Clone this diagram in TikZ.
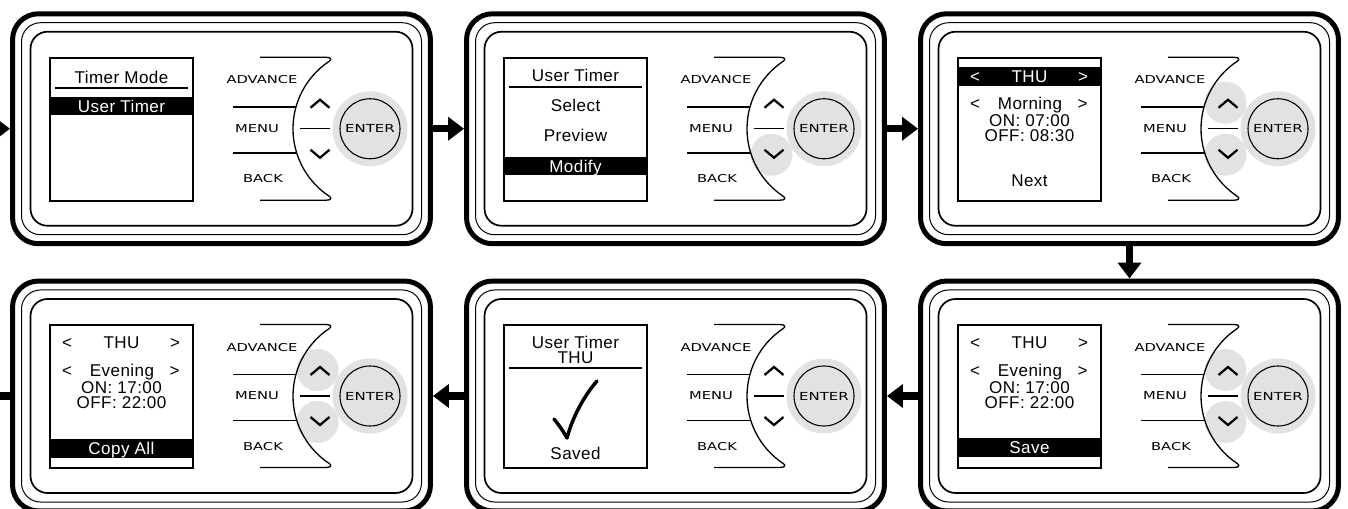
\documentclass[tikz,border=0pt]{standalone}
\usepackage{fontspec}
\newfontfamily\lcdfont[LetterSpace=2.5]{Liberation Sans}
\newfontfamily\padfont[FakeStretch=1.35]{DejaVu Sans}
\usetikzlibrary{arrows.meta}
\definecolor{padgray}{RGB}{226,226,226}

\begin{document}
\begin{tikzpicture}[x=0.02cm, y=-0.02cm,
    device/.style={draw, line width=0.1cm, rounded corners=0.52cm, minimum width=8.36cm, minimum height=4.6cm},
    rim/.style={line width=0.02cm, rounded corners=0.38cm},
    screen/.style={draw, line width=0.034cm, minimum size=2.86cm, inner sep=0pt},
    pad/.style={line width=0.026cm},
    padtext/.style={font=\padfont\fontsize{6.2}{7}\selectfont, inner sep=0pt},
    chev/.style={line width=0.045cm},
    enterkey/.style={circle, draw, line width=0.022cm, fill=padgray, minimum size=1.2cm, inner sep=0pt, font=\padfont\fontsize{6.3}{7}\selectfont},
    lcd/.style={font=\lcdfont\fontsize{9.7}{10}\selectfont, inner sep=0pt, text height=6.9pt, text depth=0pt},
    rule/.style={line width=0.026cm},
    flow/.style={line width=0.15cm, -{Triangle[length=0.32cm, width=0.46cm]}}]
      \useasboundingbox (0,0) rectangle (1348,509);
      \clip (0,0) rectangle (1348,509);
      \foreach \i/\x/\y/\up/\dn in {1/12.5/13.75/none/none, 2/466.5/13.75/none/padgray,
          3/920.5/13.75/padgray/padgray, 4/12.5/281/padgray/padgray,
          5/466.5/281/none/none, 6/920.5/281/padgray/padgray}{
        \begin{scope}[shift={(\x,\y)}]
          \node[device] (p\i) at (209,115) {};
          \draw[rim] (9,9) rectangle (409,221);
          \draw[rim, line width=0.034cm, rounded corners=0.34cm] (18,18) rectangle (400,212);
          \node[screen] (s\i) at (109,115.75) {};
          \path[fill=\up] (305,89) circle[radius=21];
          \path[fill=\dn] (305,141) circle[radius=21];
          \fill[padgray] (357.5,115) circle[radius=37.5];
          \node[enterkey] (e\i) at (357.5,115) {ENTER};
          \draw[pad] (247.5,43.5) -- (313,43.5) .. controls (318.5,43.5) and (319.5,45.5) .. (316.9,47.4)
            arc[start angle=236.6, end angle=123.4, radius=81]
            .. controls (319.5,184.5) and (318.5,186.5) .. (313,186.5) -- (247.5,186.5);
          \draw[pad] (220.5,93.25) -- (283.5,93.25) (220.5,139.25) -- (283.5,139.25) (287.5,115) -- (317.5,115);
          \draw[chev] (298,94) -- (307.5,86) -- (317,94) (298,136) -- (307.5,144) -- (317,136);
          \node[padtext] (a\i) at (249.5,66.25) {ADVANCE};
          \node[padtext] (m\i) at (244.5,114.5) {MENU};
          \node[padtext] (b\i) at (250.5,165.25) {BACK};
        \end{scope}
      }
      \begin{scope}[shift={(12.5,13.75)}]
        \node[lcd] (mode) at (109,63.25) {Timer Mode};
        \draw[rule] (42.5,74.25) -- (175.5,74.25);
        \fill (37.5,83.25) rectangle (180.5,101.25);
        \node[lcd, text=white] (user) at (109,92.25) {User Timer};
      \end{scope}
      \begin{scope}[shift={(466.5,13.75)}]
        \node[lcd] (usertimer) at (109,61.25) {User Timer};
        \draw[rule] (42.5,73.25) -- (175.5,73.25);
        \node[lcd] (select) at (109,91.25) {Select};
        \node[lcd] (preview) at (109,121.25) {Preview};
        \fill (37.5,143.25) rectangle (180.5,161.25);
        \node[lcd, text=white] (modify) at (109,152.25) {Modify};
      \end{scope}
      \begin{scope}[shift={(920.5,13.75)}]
        \fill (37.5,53.25) rectangle (180.5,72.25);
        \node[lcd, text=white] (dayl) at (54.5,62.75) {<};
        \node[lcd, text=white] (day) at (109,62.75) {THU};
        \node[lcd, text=white] (dayr) at (162.5,62.75) {>};
        \node[lcd] (morningl) at (54.5,89.5) {<};
        \node[lcd] (morning) at (109.5,89.5) {Morning};
        \node[lcd] (morningr) at (162,89.5) {>};
        \node[lcd] (on) at (109,106.5) {ON: 07:00};
        \node[lcd] (off) at (109,121.5) {OFF: 08:30};
        \node[lcd] (next) at (109,166.25) {Next};
      \end{scope}
      \begin{scope}[shift={(920.5,281)}]
        \node[lcd] (savedayl) at (54.5,61.5) {<};
        \node[lcd] (saveday) at (109,61.5) {THU};
        \node[lcd] (savedayr) at (162.5,61.5) {>};
        \node[lcd] (saveeveningl) at (54.5,89.5) {<};
        \node[lcd] (saveevening) at (109.5,89.5) {Evening};
        \node[lcd] (saveeveningr) at (162,89.5) {>};
        \node[lcd] (saveon) at (109,106.5) {ON: 17:00};
        \node[lcd] (saveoff) at (109,121.5) {OFF: 22:00};
        \fill (37.5,157) rectangle (180.5,176);
        \node[lcd, text=white] (save) at (109,166.5) {Save};
      \end{scope}
      \begin{scope}[shift={(466.5,281)}]
        \node[lcd] (donetimer) at (109,61) {User Timer};
        \node[lcd] (doneday) at (109,76) {THU};
        \draw[rule] (42.5,87) -- (175.5,87);
        \draw[line width=0.07cm, line cap=round, line join=round] (87.5,138) .. controls (92,143.5) and (97,150.5) .. (100.5,157)
          .. controls (106,136.5) and (117,115.5) .. (130.5,100);
        \node[lcd] (saved) at (109,172) {Saved};
      \end{scope}
      \begin{scope}[shift={(12.5,281)}]
        \node[lcd] (copydayl) at (54.5,61.5) {<};
        \node[lcd] (copyday) at (109,61.5) {THU};
        \node[lcd] (copydayr) at (162.5,61.5) {>};
        \node[lcd] (copyeveningl) at (54.5,89.5) {<};
        \node[lcd] (copyevening) at (109.5,89.5) {Evening};
        \node[lcd] (copyeveningr) at (162,89.5) {>};
        \node[lcd] (copyon) at (109,106.5) {ON: 17:00};
        \node[lcd] (copyoff) at (109,121.5) {OFF: 22:00};
        \fill (37.5,158) rectangle (180.5,177);
        \node[lcd, text=white] (copyall) at (109,167.5) {Copy All};
      \end{scope}
      \coordinate (in) at (-40,128.75);
      \coordinate (out) at (-40,396);
      \draw[flow] (in) -- (p1.west);
      \draw[flow] (p1) -- (p2);
      \draw[flow] (p2) -- (p3);
      \draw[flow] (p3) -- (p6);
      \draw[flow] (p6) -- (p5);
      \draw[flow] (p5) -- (p4);
      \draw[flow] (p4.west) -- (out);
    \end{tikzpicture}
\end{document}
